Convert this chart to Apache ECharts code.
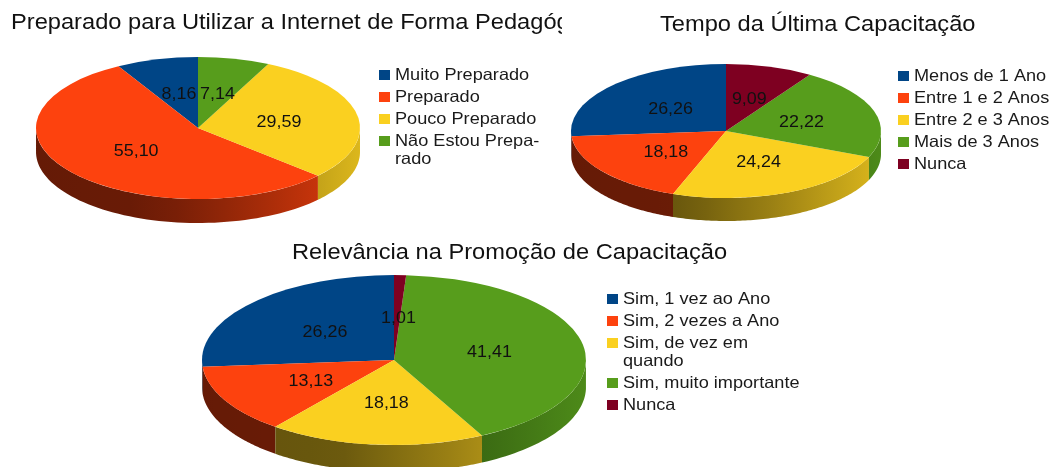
<!DOCTYPE html>
<html>
<head>
<meta charset="utf-8">
<style>
html, body { margin: 0; padding: 0; background: #fff; }
#main { width: 1050px; height: 467px; }
</style>
<script src="https://cdn.jsdelivr.net/npm/echarts@6/dist/echarts.min.js"></script>
</head>
<body>
<div id="main"></div>
<script>
// valores
const prepNames = ["Muito Preparado", "Preparado", "Pouco Preparado", "Não Estou Prepa-\nrado"];
const prepValues = [8.16, 55.10, 29.59, 7.14];
const prepLabels = ["8,16", "55,10", "29,59", "7,14"];
const prepColors = ["#004586", "#fd420e", "#fad020", "#579d1c"];

const tempoNames = ["Menos de 1 Ano", "Entre 1 e 2 Anos", "Entre 2 e 3 Anos", "Mais de 3 Anos", "Nunca"];
const tempoValues = [26.26, 18.18, 24.24, 22.22, 9.09];
const tempoLabels = ["26,26", "18,18", "24,24", "22,22", "9,09"];
const tempoColors = ["#004586", "#fd420e", "#fad020", "#579d1c", "#7e0021"];

const relevNames = ["Sim, 1 vez ao Ano", "Sim, 2 vezes a Ano", "Sim, de vez em\nquando", "Sim, muito importante", "Nunca"];
const relevValues = [26.26, 13.13, 18.18, 41.41, 1.01];
const relevLabels = ["26,26", "13,13", "18,18", "41,41", "1,01"];
const relevColors = ["#004586", "#fd420e", "#fad020", "#579d1c", "#7e0021"];

const FONT = '"Liberation Sans", Arial, sans-serif';
// o original esta esticado na horizontal
const STRETCH = 1.085;
const TITLE_STRETCH = 1.075;
const LEGEND_STRETCH = 1.1;

// escurece a lateral conforme a posicao x (luz vem da direita)
function shadeAt(n) {
    const pts = [[-1, 0.40], [-0.3, 0.42], [0.3, 0.62], [1, 0.88]];
    for (let i = 1; i < pts.length; i++) {
        if (n <= pts[i][0]) {
            const t = (n - pts[i - 1][0]) / (pts[i][0] - pts[i - 1][0]);
            return pts[i - 1][1] + t * (pts[i][1] - pts[i - 1][1]);
        }
    }
    return 0.88;
}
function darken(hex, f) {
    const r = parseInt(hex.slice(1, 3), 16), g = parseInt(hex.slice(3, 5), 16), b = parseInt(hex.slice(5, 7), 16);
    return `rgb(${Math.round(r * f)},${Math.round(g * f)},${Math.round(b * f)})`;
}

function pieSeries(name, values, labels, colors, geo) {
    const total = values.reduce((a, b) => a + b, 0);
    // soma acumulada -> angulos no sentido anti-horario a partir do topo
    const starts = [];
    let acc = 0;
    values.forEach((v) => { starts.push(acc); acc += v; });
    const angle = (v) => -Math.PI / 2 - 2 * Math.PI * v / total;

    return {
        name: name,
        type: "custom",
        coordinateSystem: "none",
        silent: true,
        animation: false,
        data: values.map((v, i) => [v, i]),
        renderItem: function (params) {
            const i = params.dataIndex;
            const a0 = angle(starts[i]);
            const a1 = angle(starts[i] + values[i]);
            const mid = (a0 + a1) / 2;
            const children = [];

            // parede lateral: so a parte da frente (y para baixo)
            const top = [], bottom = [];
            const steps = 90;
            for (let s = 0; s <= steps; s++) {
                const a = a0 + (a1 - a0) * s / steps;
                if (Math.sin(a) >= -0.001) {
                    const x = geo.cx + geo.rx * Math.cos(a);
                    const y = geo.cy + geo.ry * Math.sin(a);
                    top.push([x, y]);
                    bottom.unshift([x, y + geo.depth]);
                }
            }
            if (top.length > 1) {
                const xs = top.map((p) => p[0]);
                const minX = Math.min.apply(null, xs), maxX = Math.max.apply(null, xs);
                const stops = [];
                for (let k = 0; k <= 6; k++) {
                    const n = (minX + (maxX - minX) * k / 6 - geo.cx) / geo.rx;
                    stops.push({ offset: k / 6, color: darken(colors[i], shadeAt(n)) });
                }
                children.push({
                    type: "polygon",
                    shape: { points: top.concat(bottom) },
                    style: { fill: new echarts.graphic.LinearGradient(0, 0, 1, 0, stops) }
                });
            }

            children.push({
                type: "sector",
                x: geo.cx,
                y: geo.cy,
                scaleY: geo.ry / geo.rx,
                shape: { cx: 0, cy: 0, r0: 0, r: geo.rx, startAngle: a0, endAngle: a1, clockwise: false },
                style: { fill: colors[i] }
            });

            children.push({
                type: "text",
                z2: 10,
                x: geo.cx + geo.rx * 0.5 * Math.cos(mid) + 1.5,
                y: geo.cy + geo.ry * 0.5 * Math.sin(mid) + 1,
                scaleX: STRETCH,
                style: {
                    text: labels[i],
                    fill: "#111",
                    font: "16.5px " + FONT,
                    align: "center",
                    verticalAlign: "middle"
                }
            });
            return { type: "group", children: children };
        }
    };
}

function titleText(text, x, y) {
    return {
        type: "text",
        x: x,
        y: y,
        scaleX: TITLE_STRETCH,
        style: { text: text, fill: "#111", font: "22px " + FONT }
    };
}

// legenda: quadrado alinhado com a primeira linha do texto
function legendBlock(names, colors, x, y) {
    const els = [];
    let cy = y;
    names.forEach((n, i) => {
        els.push({ type: "rect", x: x, y: cy - 5, shape: { width: 11, height: 10 }, style: { fill: colors[i] } });
        els.push({
            type: "text",
            x: x + 16,
            y: cy - 9,
            scaleX: LEGEND_STRETCH,
            style: { text: n, fill: "#1a1a1a", font: "16.5px " + FONT, lineHeight: 18 }
        });
        cy += 22 + 18 * (n.split("\n").length - 1);
    });
    return els;
}

const myChart = echarts.init(document.getElementById("main"), null, { renderer: "canvas" });

myChart.setOption({
    backgroundColor: "#fff",
    animation: false,
    graphic: [
        titleText("Preparado para Utilizar a Internet de Forma Pedagógica", 11, 12),
        // titulo cortado na margem do grafico, como no original
        { type: "rect", x: 562, y: 8, z: 100, shape: { width: 60, height: 30 }, style: { fill: "#fff" } },
        titleText("Tempo da Última Capacitação", 660, 14),
        titleText("Relevância na Promoção de Capacitação", 292, 242)
    ].concat(
        legendBlock(prepNames, prepColors, 379, 75),
        legendBlock(tempoNames, tempoColors, 898, 76),
        legendBlock(relevNames, relevColors, 607, 299)
    ),
    series: [
        pieSeries("Preparado para Utilizar a Internet", prepValues, prepLabels, prepColors, { cx: 198, cy: 128, rx: 162, ry: 71, depth: 24 }),
        pieSeries("Tempo da Última Capacitação", tempoValues, tempoLabels, tempoColors, { cx: 726, cy: 131, rx: 155, ry: 67, depth: 23 }),
        pieSeries("Relevância na Promoção de Capacitação", relevValues, relevLabels, relevColors, { cx: 394, cy: 360, rx: 192, ry: 85, depth: 27 })
    ]
});
</script>
</body>
</html>
